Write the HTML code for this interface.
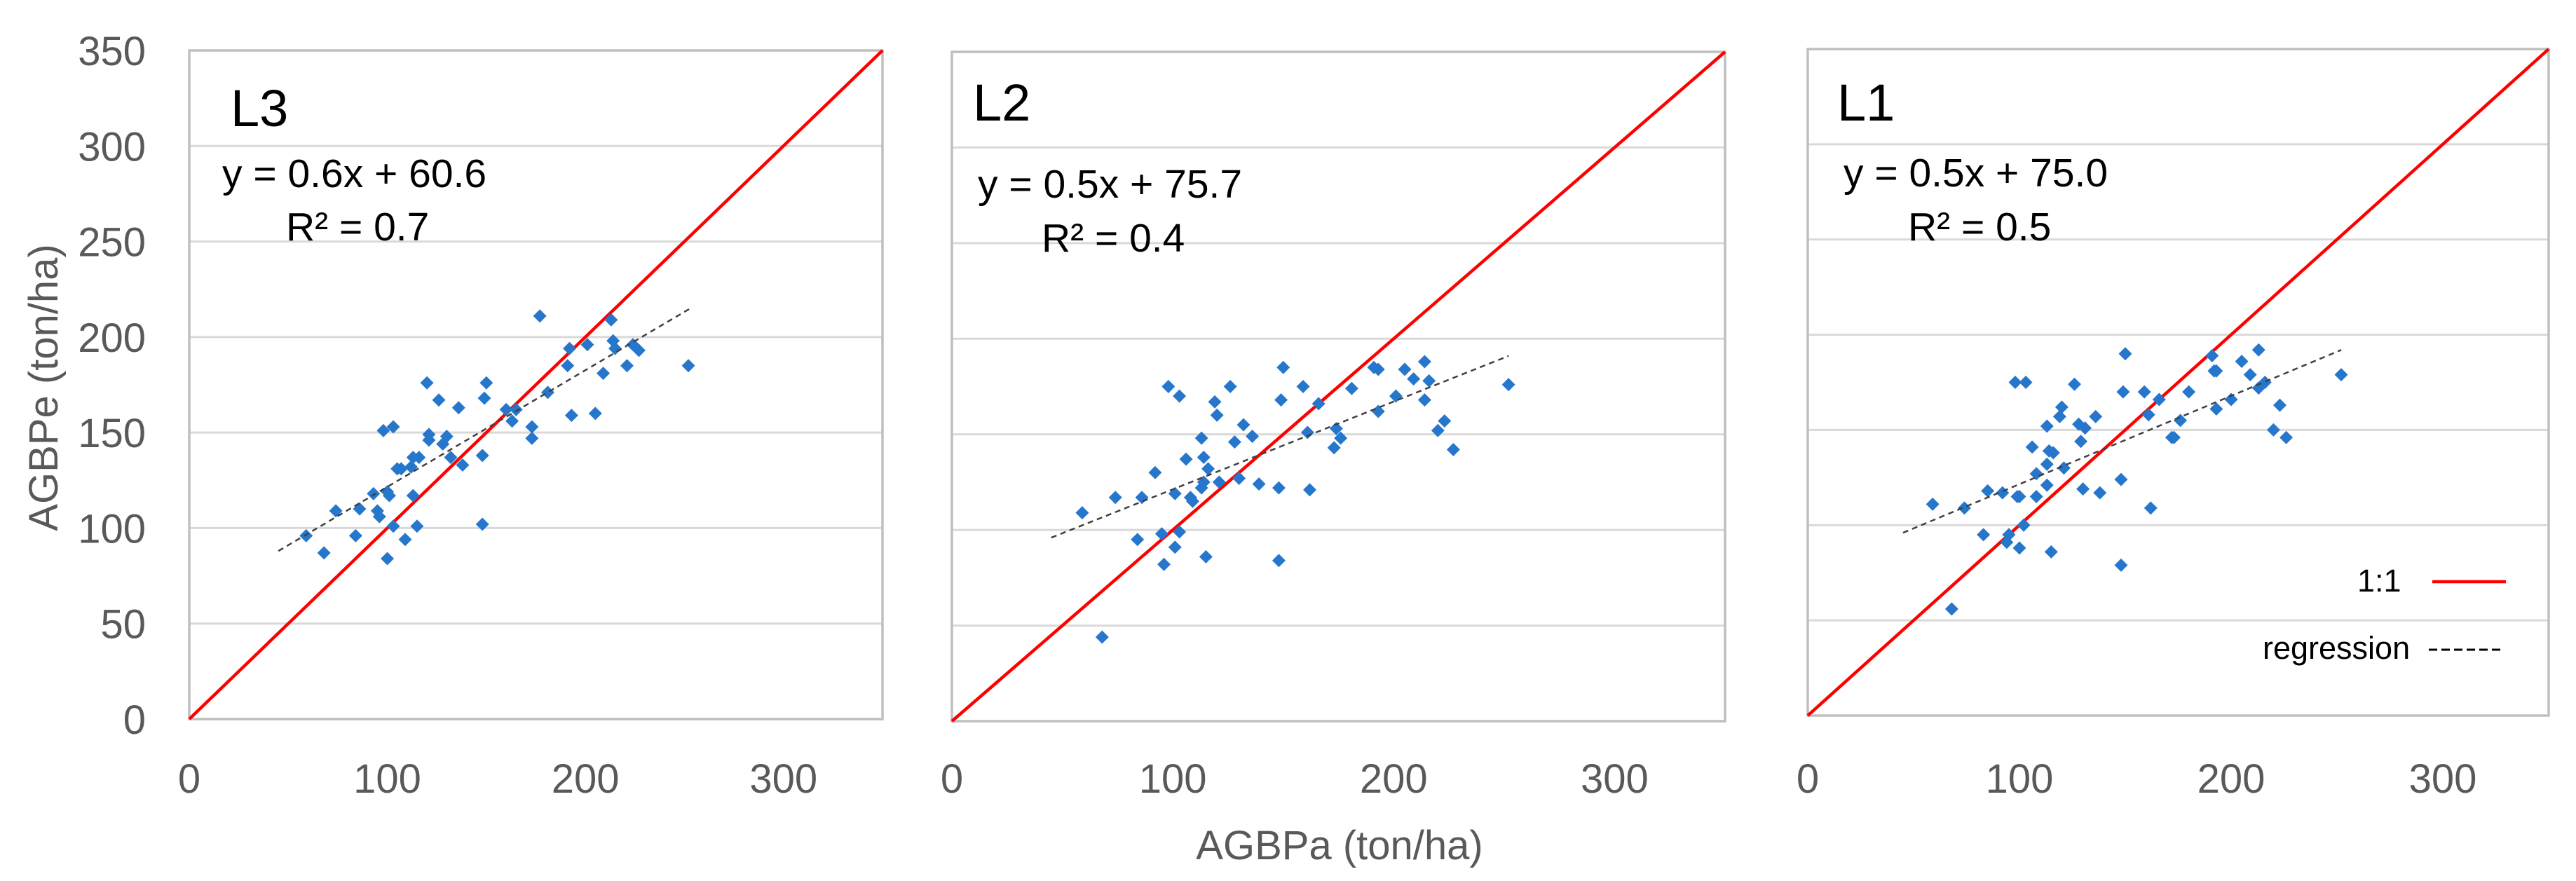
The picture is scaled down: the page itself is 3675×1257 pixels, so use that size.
<!DOCTYPE html>
<html><head><meta charset="utf-8"><style>
html,body{margin:0;padding:0;background:#fff;}
svg{display:block;font-family:"Liberation Sans",sans-serif;}
</style></head><body>
<svg id="chart" width="3675" height="1257" viewBox="0 0 3675 1257" xmlns="http://www.w3.org/2000/svg">
<rect width="3675" height="1257" fill="#fff"/>
<text x="0" y="0" transform="translate(82,553) rotate(-90)" text-anchor="middle" font-size="58" fill="#595959">AGBPe (ton/ha)</text>
<text x="1911" y="1226" text-anchor="middle" font-size="58" fill="#595959">AGBPa (ton/ha)</text>
</svg>
<script>
const yTicks=[0,50,100,150,200,250,300,350];
const xTicks=[0,100,200,300];
const panelNames=["L3","L2","L1"];
const equations=["y = 0.6x + 60.6","y = 0.5x + 75.7","y = 0.5x + 75.0"];
const r2Labels=["R² = 0.7","R² = 0.4","R² = 0.5"];
const l3X=[59,68,74,84,86,93,95,96,98,100,101,100,103,103,105,107,109,112,113,113,115,116,120,121,121,126,128,130,132,136,138,148,148,149,150,160,163,165,173,173,177,181,191,192,193,201,205,209,213,214,215,221,224,227,252];
const l3Y=[96,87,109,96,110,118,109,106,151,119,117,84,153,101,131,131,94,132,137,117,101,137,176,146,149,167,144,148,137,163,133,102,138,168,176,162,156,162,147,153,211,171,185,194,159,196,160,181,209,198,194,185,196,193,185];
const l2X=[59,68,74,84,86,92,95,96,98,101,101,103,103,106,108,109,113,113,114,114,115,116,119,120,121,126,128,130,132,136,139,148,148,149,150,159,161,162,166,173,174,176,181,191,193,193,201,205,209,214,214,216,220,223,227,252];
const l2Y=[109,44,117,95,117,130,98,82,175,119,91,99,170,137,117,115,148,122,125,138,86,132,167,160,125,175,146,127,155,149,124,122,84,168,185,175,151,121,166,143,153,148,174,185,184,162,170,184,179,188,168,178,152,157,142,176];
const l1X=[59,68,74,83,85,92,94,95,98,99,100,100,102,103,106,108,108,113,113,113,114,116,115,119,120,121,126,128,129,131,130,136,138,148,148,149,150,159,161,162,166,172,173,176,180,191,192,193,193,200,205,209,213,213,216,220,223,226,252];
const l1Y=[111,56,109,95,118,117,91,95,175,115,115,88,100,175,141,127,115,121,132,152,139,138,86,157,162,130,174,153,144,151,119,157,117,124,79,170,190,170,158,109,166,146,146,155,170,189,181,181,161,166,186,179,192,172,175,150,163,146,179];
const regStartX=[45,45,45];
const regStartY=[88,96,96];
const regEndX=[253,252,252];
const regEndY=[215,191,192];

const panels=[
 {x0:270,x1:1259,y0:72,y1:1026,ex:317,ey:267,rx:408,ry:343,lx:329,ly:180,yLabels:true},
 {x0:1358,x1:2461,y0:74,y1:1029,ex:1395,ey:282,rx:1486,ry:359,lx:1388,ly:172,yLabels:false},
 {x0:2579,x1:3636,y0:70,y1:1021,ex:2630,ey:266,rx:2722,ry:343,lx:2621,ly:172,yLabels:false}
];
const seriesX=[l3X,l2X,l1X], seriesY=[l3Y,l2Y,l1Y];
const svg=document.getElementById('chart');
const NS='http://www.w3.org/2000/svg';
function mk(tag,attrs,parent){const e=document.createElementNS(NS,tag);for(const k in attrs)e.setAttribute(k,attrs[k]);(parent||svg).appendChild(e);return e;}

panels.forEach((p,i)=>{
  const g=mk('g',{});
  
  
  const sx=v=>p.x0+(v/350)*(p.x1-p.x0);
  const sy=v=>p.y1-(v/350)*(p.y1-p.y0);
  yTicks.forEach(t=>{
    if(t>0&&t<350){
      const gl=mk('line',{x1:p.x0,x2:p.x1,y1:sy(t),y2:sy(t),stroke:'#d9d9d9','stroke-width':3},g);
      
      
    }
    if(p.yLabels){
      const tl=mk('text',{x:208,y:sy(t)+21,'text-anchor':'end','font-size':58,fill:'#595959'},g);
      tl.textContent=t;
      
      
    }
  });
  xTicks.forEach(t=>{
    const tl=mk('text',{x:sx(t),y:1131,'text-anchor':'middle','font-size':58,fill:'#595959'},g);
    tl.textContent=t;
    
    
  });
  const fr=mk('rect',{x:p.x0,y:p.y0,width:p.x1-p.x0,height:p.y1-p.y0,fill:'none',stroke:'#bfbfbf','stroke-width':3.5},g);
  
  
  const one=mk('line',{x1:sx(0),y1:sy(0),x2:sx(350),y2:sy(350),stroke:'#ff0000','stroke-width':4.5},g);
  
  
  const xs=seriesX[i], ys=seriesY[i];
  xs.forEach((xv,j)=>{
    const cx=sx(xv), cy=sy(ys[j]), r=9.5;
    const d=mk('polygon',{points:`${cx},${cy-r} ${cx+r},${cy} ${cx},${cy+r} ${cx-r},${cy}`,fill:'#2677cc'},g);
    
    
  });
  const rg=mk('line',{x1:sx(regStartX[i]),y1:sy(regStartY[i]),x2:sx(regEndX[i]),y2:sy(regEndY[i]),stroke:'#404040','stroke-width':2.5,'stroke-dasharray':'8,6'},g);
  
  
  const lb=mk('text',{x:p.lx,y:p.ly,'font-size':74,fill:'#000'},g);
  lb.textContent=panelNames[i];
  
  
  const eq=mk('text',{x:p.ex,y:p.ey,'font-size':57,fill:'#000'},g);
  eq.textContent=equations[i];
  
  
  const r2=mk('text',{x:p.rx,y:p.ry,'font-size':57,fill:'#000'},g);
  r2.textContent=r2Labels[i];
  
  
});

const lg=mk('g',{});


const t1=mk('text',{x:3363,y:844,'font-size':45,fill:'#000'},lg);
t1.textContent='1:1';


const l1=mk('line',{x1:3470,x2:3575,y1:830,y2:830,stroke:'#ff0000','stroke-width':4.5},lg);


const t2=mk('text',{x:3228,y:940,'font-size':45,fill:'#000'},lg);
t2.textContent='regression';


const l2=mk('line',{x1:3465,x2:3568,y1:927,y2:927,stroke:'#000','stroke-width':3,'stroke-dasharray':'12,6'},lg);


</script>
</body></html>
